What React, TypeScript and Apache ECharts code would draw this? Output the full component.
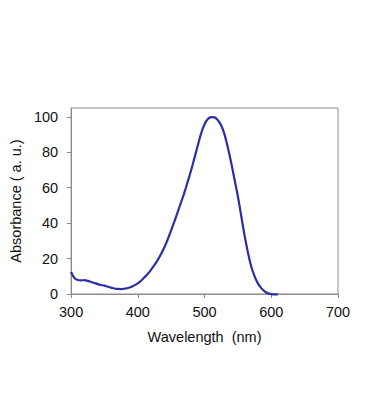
import React, { useEffect, useRef } from "react";
import * as echarts from "echarts";

const wavelengths = [
  300, 305, 310, 315, 320, 325, 330, 335, 340, 345, 350, 355, 360, 365, 370, 375, 380, 385, 390, 395,
  400, 405, 410, 415, 420, 425, 430, 435, 440, 445, 450, 455, 460, 465, 470, 475, 480, 485, 490, 495,
  500, 505, 510, 515, 520, 525, 530, 535, 540, 545, 550, 555, 560, 565, 570, 575, 580, 585, 590, 595,
  600, 605, 610,
];
const absorbance = [
  12.5, 9.0, 7.9, 7.7, 7.8, 7.4, 6.8, 6.2, 5.6, 5.1, 4.7, 4.1, 3.6, 3.1, 2.9, 2.8, 3.0, 3.4, 4.0, 4.9,
  6.0, 7.5, 9.4, 11.4, 13.8, 16.4, 19.3, 22.7, 26.5, 31, 36, 41.2, 46.5, 52, 57.5, 63.7, 70, 77, 84, 90.8,
  95.8, 98.8, 99.9, 99.7, 98.1, 95.1, 90, 82.5, 74, 64.5, 55, 44, 33, 23.5, 15.5, 10, 6, 3.3, 1.5, 0.4,
  0, -0.2, -0.2,
];
const yTicks = [0, 20, 40, 60, 80, 100];
const xTitle = "Wavelength  (nm)";
const yTitle = "Absorbance ( a. u.)";

export default function App() {
  const ref = useRef<HTMLDivElement>(null);
  useEffect(() => {
    if (!ref.current) return;
    const chart = echarts.init(ref.current, null, { renderer: "svg" });
    const font = "Liberation Sans, Arial, sans-serif";
    const textColor = "#111111";
    const axisColor = "#8c8c8c";
    chart.setOption({
      animation: false,
      backgroundColor: "#ffffff",
      grid: {
        left: 71,
        right: 31,
        top: 108,
        bottom: 125,
        show: true,
        borderColor: axisColor,
        borderWidth: 1,
        backgroundColor: "transparent",
      },
      xAxis: {
        type: "value",
        min: 300,
        max: 700,
        interval: 100,
        name: xTitle,
        nameLocation: "middle",
        nameGap: 35,
        nameTextStyle: { fontFamily: font, fontSize: 14.5, color: textColor },
        axisLine: { show: true, lineStyle: { color: axisColor, width: 1 } },
        axisTick: { show: true, length: 4, inside: false, lineStyle: { color: axisColor } },
        axisLabel: { fontFamily: font, fontSize: 14.5, color: textColor, margin: 10 },
        splitLine: { show: false },
      },
      yAxis: {
        type: "value",
        min: 0,
        max: 105,
        interval: 20,
        name: yTitle,
        nameLocation: "middle",
        nameGap: 44,
        nameTextStyle: { fontFamily: font, fontSize: 14.5, color: textColor },
        axisLine: { show: true, lineStyle: { color: axisColor, width: 1 } },
        axisTick: { show: true, length: 4, inside: false, lineStyle: { color: axisColor }, customValues: yTicks },
        axisLabel: { fontFamily: font, fontSize: 14.5, color: textColor, margin: 13, customValues: yTicks },
        splitLine: { show: false },
      },
      series: [
        {
          type: "line",
          data: wavelengths.map((w, i) => [w, absorbance[i]]),
          showSymbol: false,
          smooth: 0.4,
          lineStyle: { color: "#2c2ea6", width: 2.2 },
          clip: false,
        },
      ],
    });
    return () => chart.dispose();
  }, []);
  return (
    <div
      ref={ref}
      style={{ position: "fixed", left: 0, top: 0, width: 369, height: 419 }}
    />
  );
}
